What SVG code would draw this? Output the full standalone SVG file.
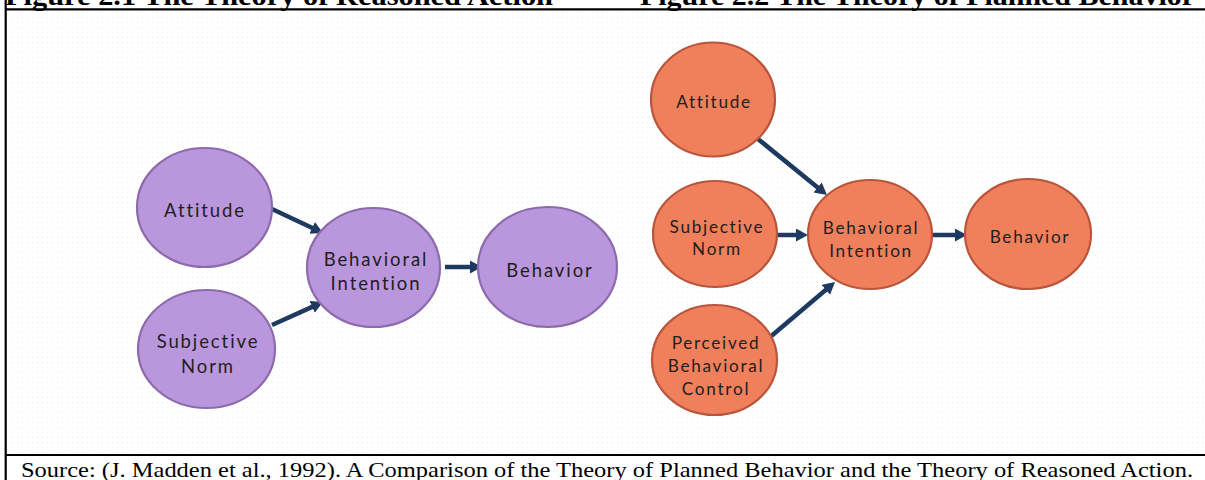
<svg xmlns="http://www.w3.org/2000/svg" width="1205" height="480" viewBox="0 0 1205 480">
  <style>
    .hdr { font-family: "Liberation Serif", "Times New Roman", serif; font-weight: bold; font-size: 27px; fill: #000; }
    .src { font-family: "Liberation Serif", "Times New Roman", serif; font-size: 22px; fill: #000; }
    .frame { stroke: #000; stroke-width: 2.2; fill: none; }
    .purple { fill: #BA97DC; stroke: #8C6AAB; stroke-width: 2.2; }
    .orange { fill: #F0805C; stroke: #B8553C; stroke-width: 2.2; }
    .lblL { font-family: Lato, "Open Sans", sans-serif; font-size: 18.5px; letter-spacing: 1.9px; fill: #1e1e1e; text-anchor: middle; }
    .lblR { font-family: Lato, "Open Sans", sans-serif; font-size: 17.2px; letter-spacing: 1.7px; fill: #1e1e1e; text-anchor: middle; }
    .arrow { stroke: #1F3A60; stroke-width: 4.5; fill: none; marker-end: url(#head); }
  </style>
  <defs>
    <marker id="head" markerUnits="userSpaceOnUse" markerWidth="13" markerHeight="14" refX="2" refY="6.5" orient="auto">
      <path d="M0,0 L12,6.5 L0,13 z" fill="#1F3A60"/>
    </marker>
    <pattern id="dots" width="5" height="5" patternUnits="userSpaceOnUse">
      <rect x="2" y="2" width="1" height="1" fill="#ececec"/>
    </pattern>
  </defs>
  <rect x="0" y="0" width="1205" height="480" fill="#fff"/>
  <rect x="8" y="11" width="1197" height="442" fill="url(#dots)"/>

  <!-- header texts (cut off at top, as in the reference) -->
  <text class="hdr" x="5" y="5" textLength="548" lengthAdjust="spacingAndGlyphs">Figure 2.1 The Theory of Reasoned Action</text>
  <text class="hdr" x="640" y="5" textLength="555" lengthAdjust="spacingAndGlyphs">Figure 2.2 The Theory of Planned Behavior</text>

  <!-- frame lines -->
  <line class="frame" x1="5.7" y1="0" x2="5.7" y2="480"/>
  <line class="frame" x1="5" y1="9.3" x2="1205" y2="9.3"/>
  <line class="frame" x1="5" y1="455" x2="1205" y2="455"/>

  <text class="src" x="21" y="477" textLength="1172" lengthAdjust="spacingAndGlyphs">Source: (J. Madden et al., 1992). A Comparison of the Theory of Planned Behavior and the Theory of Reasoned Action.</text>

  <!-- connectors -->
  <g id="connectors">
    <line class="arrow" x1="272" y1="209" x2="314" y2="228.7"/>
    <line class="arrow" x1="272" y1="325" x2="313.9" y2="306.1"/>
    <line class="arrow" x1="445" y1="267" x2="472" y2="267"/>
    <line class="arrow" x1="758" y1="139" x2="819.2" y2="188.7"/>
    <line class="arrow" x1="777" y1="235" x2="798" y2="235"/>
    <line class="arrow" x1="769" y1="338" x2="827.4" y2="288.5"/>
    <line class="arrow" x1="933" y1="235" x2="957" y2="235"/>
  </g>

  <!-- left diagram: Theory of Reasoned Action -->
  <g id="tra-attitude">
    <ellipse class="purple" cx="204.5" cy="207.5" rx="67.5" ry="59.5"/>
    <text class="lblL" x="205" y="217">Attitude</text>
  </g>
  <g id="tra-subjective-norm">
    <ellipse class="purple" cx="206.5" cy="349" rx="68.5" ry="59"/>
    <text class="lblL" x="208" y="348">Subjective</text>
    <text class="lblL" x="208" y="373">Norm</text>
  </g>
  <g id="tra-behavioral-intention">
    <ellipse class="purple" cx="373.5" cy="267.5" rx="66.5" ry="59.5"/>
    <text class="lblL" x="376" y="266">Behavioral</text>
    <text class="lblL" x="376" y="290">Intention</text>
  </g>
  <g id="tra-behavior">
    <ellipse class="purple" cx="547.5" cy="267" rx="69.5" ry="60"/>
    <text class="lblL" x="550" y="276.5">Behavior</text>
  </g>

  <!-- right diagram: Theory of Planned Behavior -->
  <g id="tpb-attitude">
    <ellipse class="orange" cx="713" cy="99.5" rx="62" ry="57"/>
    <text class="lblR" x="714" y="107.5">Attitude</text>
  </g>
  <g id="tpb-subjective-norm">
    <ellipse class="orange" cx="715" cy="234" rx="62" ry="53"/>
    <text class="lblR" x="717" y="233">Subjective</text>
    <text class="lblR" x="717" y="255">Norm</text>
  </g>
  <g id="tpb-behavioral-intention">
    <ellipse class="orange" cx="870" cy="234.5" rx="62" ry="54.5"/>
    <text class="lblR" x="871" y="234">Behavioral</text>
    <text class="lblR" x="871" y="256.5">Intention</text>
  </g>
  <g id="tpb-perceived-behavioral-control">
    <ellipse class="orange" cx="714.5" cy="360" rx="62.5" ry="55"/>
    <text class="lblR" x="716" y="349">Perceived</text>
    <text class="lblR" x="716" y="372">Behavioral</text>
    <text class="lblR" x="716" y="395">Control</text>
  </g>
  <g id="tpb-behavior">
    <ellipse class="orange" cx="1028" cy="234" rx="63" ry="55"/>
    <text class="lblR" x="1030" y="242.5">Behavior</text>
  </g>
</svg>
